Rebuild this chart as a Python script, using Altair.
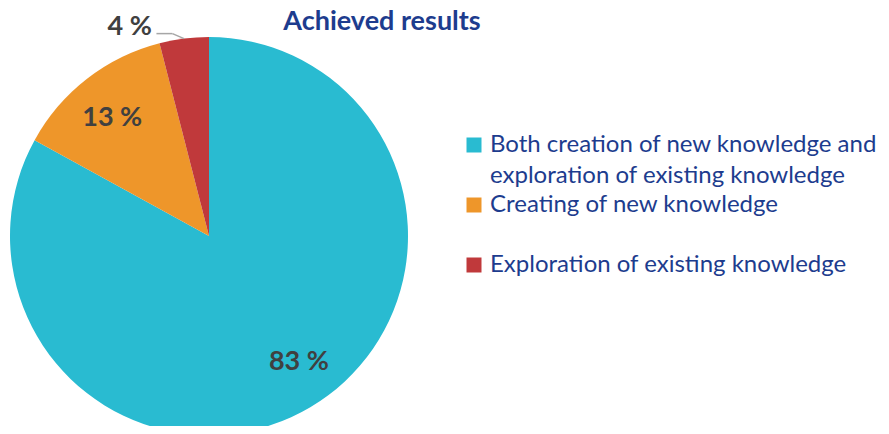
import altair as alt
import pandas as pd

categories = [
    "Both creation of new knowledge and exploration of existing knowledge",
    "Creating of new knowledge",
    "Exploration of existing knowledge",
]
legend_labels = [
    "Both creation of new knowledge and\nexploration of existing knowledge",
    "Creating of new knowledge",
    "Exploration of existing knowledge",
]
values = [83, 13, 4]
colors = ["#29BBD1", "#EE962A", "#C0393B"]
title_text = "Achieved results"

df = pd.DataFrame({"category": categories, "label": legend_labels, "value": values})

CX, CY, R = 201, 228, 199
FONT = "Lato"
BLUE = "#1D3C8E"
GRAY = "#404040"

color = alt.Color("category:N", scale=alt.Scale(domain=categories, range=colors), legend=None)
theta = alt.Theta("value:Q", stack=True)
order = alt.Order("idx:Q")

base = alt.Chart(df).transform_window(idx="row_number()")

pie = base.mark_arc(outerRadius=R).encode(
    theta=theta, color=color, order=order, x=alt.value(CX), y=alt.value(CY)
)


def label_layer(cond, radius, dx, dy):
    return base.transform_calculate(
        txt=f"{cond} ? datum.value + ' %' : ''"
    ).mark_text(
        radius=radius, dx=dx, dy=dy, font=FONT, fontSize=27, fontWeight="bold", color=GRAY
    ).encode(
        theta=theta, order=order, detail="category:N", text="txt:N",
        x=alt.value(CX), y=alt.value(CY)
    )


lab_big = label_layer("datum.value >= 50", 153, 12, -6)
lab_mid = label_layer("datum.value >= 10 && datum.value < 50", 153, -3, 3)
lab_small = label_layer("datum.value < 10", 210, -53, -1)

lead = (
    base.transform_window(cum="sum(value)", frame=[None, 0])
    .transform_joinaggregate(total="sum(value)")
    .transform_filter("datum.value < 10")
    .transform_calculate(a="2*PI*(datum.cum - datum.value/2)/datum.total")
    .transform_calculate(
        x0=f"{CX} + {R}*sin(datum.a)",
        y0=f"{CY} - {R}*cos(datum.a)",
        x1=f"{CX} + {R + 5}*sin(datum.a) - 11",
        y1=f"{CY} - {R + 5}*cos(datum.a)",
    )
    .transform_calculate(x2="datum.x1 - 16", y2="datum.y1")
)
seg1 = lead.mark_rule(color="#A6A6A6", strokeWidth=1.5).encode(
    x=alt.X("x0:Q", scale=None, axis=None), y=alt.Y("y0:Q", scale=None, axis=None),
    x2="x1:Q", y2="y1:Q"
)
seg2 = lead.mark_rule(color="#A6A6A6", strokeWidth=1.5).encode(
    x=alt.X("x1:Q", scale=None, axis=None), y=alt.Y("y1:Q", scale=None, axis=None),
    x2="x2:Q", y2="y2:Q"
)

ly = alt.Y("category:N", scale=alt.Scale(type="point", domain=categories, range=[137, 257], padding=0), axis=None)
sq = alt.Chart(df).mark_square(size=225, opacity=1).encode(
    x=alt.value(466), y=ly, color=color
)
leg_text = alt.Chart(df).mark_text(
    align="left", baseline="middle", lineBreak="\n", lineHeight=31,
    font=FONT, fontSize=24, color=BLUE
).encode(x=alt.value(482), y=ly, text="label:N")

title = alt.Chart(pd.DataFrame({"t": [title_text]})).mark_text(
    align="center", baseline="alphabetic", font=FONT, fontSize=27, fontWeight="bold", color=BLUE
).encode(x=alt.value(374), y=alt.value(22), text="t:N")

chart = (
    alt.layer(pie, lab_big, lab_mid, lab_small, seg1, seg2, sq, leg_text, title)
    .resolve_scale(x="independent", y="independent")
    .properties(
        width=873, height=418, autosize=alt.AutoSizeParams(type="none"), padding=0,
        view=alt.ViewBackground(strokeWidth=0, stroke="transparent"),
    )
    .configure_view(strokeWidth=0, stroke="transparent")
    .configure_axis(domain=False, ticks=False, labels=False, grid=False)
    .configure(background="white")
)

chart.save("out.html", embed_options={"renderer": "svg", "actions": False})
